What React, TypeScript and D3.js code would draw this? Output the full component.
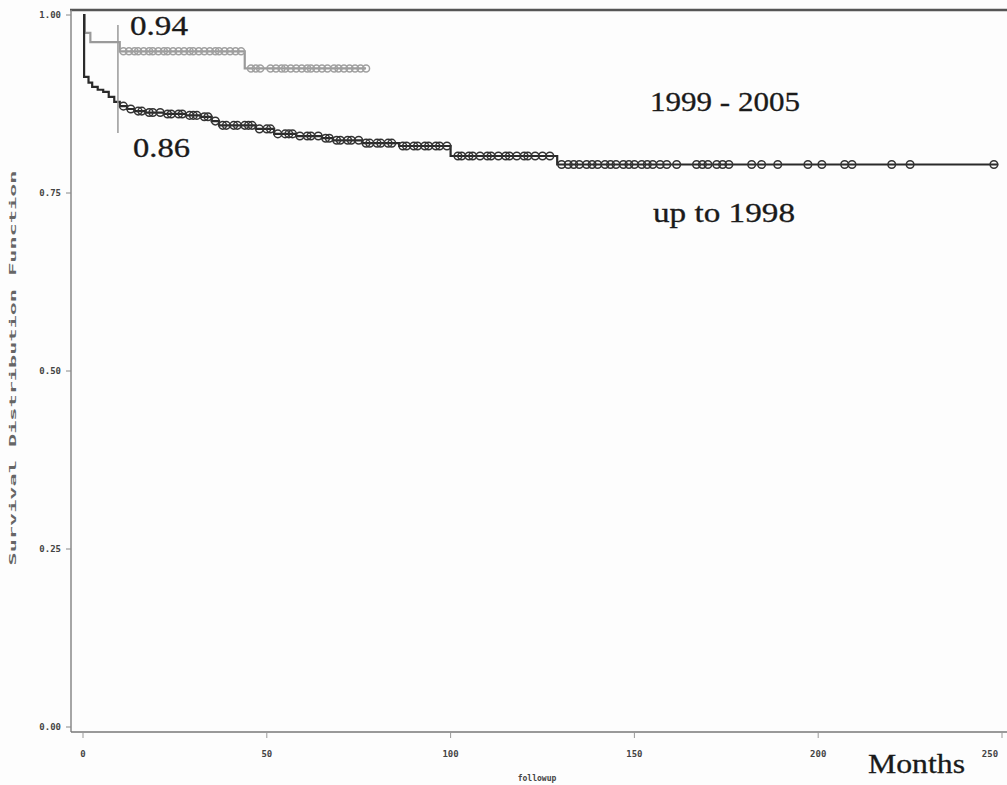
import React from 'react';
import * as d3 from 'd3';

// Kaplan-Meier step points [months, survival]
const upTo1998 = [
  [0, 1.0], [0.3, 0.913], [1.5, 0.905], [2.5, 0.899], [4, 0.895], [5.5, 0.892],
  [7, 0.885], [8.5, 0.878], [10, 0.872], [12, 0.868], [14, 0.865], [17, 0.863],
  [22, 0.861], [28, 0.859], [32, 0.857], [35, 0.851], [37, 0.845], [47, 0.840],
  [52, 0.833], [58, 0.830], [65, 0.827], [68, 0.824], [76, 0.820], [86, 0.816],
  [100, 0.802], [129, 0.790], [249, 0.790]
];
const from1999 = [
  [0, 1.0], [0.5, 0.975], [2, 0.962], [10, 0.949], [44, 0.925], [77, 0.925]
];

// censored observations (months)
const censorUpTo1998 = [
  11, 13, 15, 16, 18, 19, 21, 23, 24, 26, 27, 29, 30, 31, 33, 34, 36, 38, 39, 41,
  42, 44, 45, 46, 48, 50, 51, 53, 55, 56, 57, 59, 61, 62, 64, 66, 67, 69, 70, 72,
  73, 75, 77, 78, 80, 81, 83, 84, 87, 88, 90, 91, 93, 94, 96, 97, 99, 102, 103, 105,
  106, 108, 110, 111, 113, 115, 116, 118, 120, 121, 123, 125, 127,
  130.2, 132, 133.5, 135, 137, 138.5, 140, 142, 143.5, 145, 147, 148.5, 150, 152,
  153.5, 155, 157, 158.8, 161.5, 166.9, 168.5, 170, 172.4, 174, 175.7, 181.9, 184.6,
  189, 197.2, 201, 207.2, 209.2, 220, 225, 247.8
];
const censorFrom1999 = [
  11, 12.5, 14, 15, 16.5, 18, 19, 20.5, 22, 23, 24.5, 26, 27.5, 29, 30, 31.5, 33,
  34.5, 36, 37, 38.5, 40, 41.5, 43,
  45.7, 47, 48.2, 51, 52.5, 54, 55, 56.5, 58, 59.5, 61, 62, 63.5, 65, 66.5, 68.3,
  69.5, 71, 72.5, 74, 75.5, 77
];

const xTicks = [0, 50, 100, 150, 200, 250];
const yTicks = [0, 0.25, 0.5, 0.75, 1.0];

const W = 1007;
const H = 785;

export default function App() {
  const x = d3.scaleLinear().domain([0, 250]).range([83, 1002]);
  const y = d3.scaleLinear().domain([0, 1]).range([727, 15]);

  const line = d3.line<number[]>()
    .x(d => x(d[0]))
    .y(d => y(d[1]))
    .curve(d3.curveStepAfter);

  // survival at time t from step points
  const survAt = (pts: number[][], t: number) => {
    let s = pts[0][1];
    for (const p of pts) if (p[0] <= t) s = p[1];
    return s;
  };

  const tickFont = { fontFamily: 'DejaVu Sans Mono', fontSize: 9, fontWeight: 700, fill: '#444' };
  const serif = { fontFamily: 'Liberation Serif', fill: '#1a1a1a', stroke: '#1a1a1a', strokeWidth: 0.3 };

  return (
    <>
      <style>{`body{margin:0;background:#fff}`}</style>
      <svg width={W} height={H} style={{ display: 'block', background: '#fdfdfd' }}>
        {/* frame */}
        <line x1={70} x2={W} y1={10} y2={10} stroke="#555" strokeWidth={2.5} />
        <line x1={71} x2={71} y1={10} y2={732} stroke="#888" strokeWidth={1.5} />
        <line x1={71} x2={W} y1={732} y2={732} stroke="#777" strokeWidth={1.5} />

        {/* y axis */}
        {yTicks.map(t => (
          <g key={t}>
            <line x1={66} x2={71} y1={y(t)} y2={y(t)} stroke="#888" strokeWidth={1} />
            <text x={61} y={y(t) + 3} textAnchor="end" {...tickFont}>{t.toFixed(2)}</text>
          </g>
        ))}
        <text
          transform="translate(16,368) rotate(-90)"
          textAnchor="middle"
          textLength={395}
          lengthAdjust="spacingAndGlyphs"
          {...tickFont}
          fontSize={9}
          fill="#666"
        >Survival Distribution Function</text>

        {/* x axis */}
        {xTicks.map(t => (
          <g key={t}>
            <line x1={x(t)} x2={x(t)} y1={732} y2={738} stroke="#999" strokeWidth={1} />
            <text x={Math.min(x(t), 990)} y={757} textAnchor="middle" {...tickFont}>{t}</text>
          </g>
        ))}
        <text x={537} y={781} textAnchor="middle" {...tickFont} fontSize={8}>followup</text>

        {/* 1999 - 2005 curve */}
        <path d={line(from1999) || ''} fill="none" stroke="#9a9a9a" strokeWidth={2.2} />
        {censorFrom1999.map((t, i) => (
          <circle key={'g' + i} cx={x(t)} cy={y(survAt(from1999, t))} r={3.5}
            fill="none" stroke="#a0a0a0" strokeWidth={1.5} />
        ))}

        {/* up to 1998 curve */}
        <path d={line(upTo1998) || ''} fill="none" stroke="#2a2a2a" strokeWidth={2.2} />
        {censorUpTo1998.map((t, i) => (
          <circle key={'b' + i} cx={x(t)} cy={y(survAt(upTo1998, t))} r={3.8}
            fill="none" stroke="#333" strokeWidth={1.5} />
        ))}

        {/* 10 month reference */}
        <line x1={x(9.5)} x2={x(9.5)} y1={25} y2={133} stroke="#999" strokeWidth={1.5} />

        {/* annotations */}
        <text x={130} y={35} fontSize={27} textLength={58} lengthAdjust="spacingAndGlyphs" {...serif}>0.94</text>
        <text x={133} y={157} fontSize={27} textLength={57} lengthAdjust="spacingAndGlyphs" {...serif}>0.86</text>
        <text x={650} y={111} fontSize={27} textLength={150} lengthAdjust="spacingAndGlyphs" {...serif}>1999 - 2005</text>
        <text x={653} y={222} fontSize={27} textLength={142} lengthAdjust="spacingAndGlyphs" {...serif}>up to 1998</text>
        <text x={868} y={773} fontSize={28} textLength={97} lengthAdjust="spacingAndGlyphs" {...serif}>Months</text>
      </svg>
    </>
  );
}
